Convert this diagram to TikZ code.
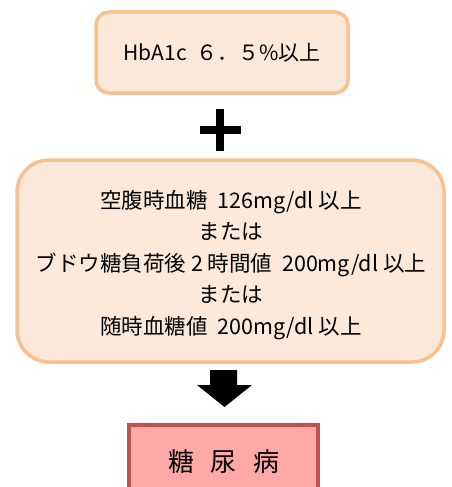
\documentclass[tikz,border=0pt]{standalone}
\usepackage{fontspec}
\setmainfont{Noto Sans CJK JP}
\newfontfamily\jpfont{Noto Sans CJK JP}
\definecolor{peachfill}{HTML}{FDE9D9}
\definecolor{peachline}{HTML}{FAC090}
\definecolor{pinkfill}{HTML}{FFA8A8}
\definecolor{redline}{HTML}{C0504D}
\tikzset{
  condbox/.style={draw=peachline, fill=peachfill, line width=3.5pt},
  resultbox/.style={draw=redline, fill=pinkfill, line width=3.5pt},
  txt/.style={font=\jpfont\fontsize{21.5}{31.5}\selectfont, align=center, inner sep=0pt},
}
\begin{document}
\begin{tikzpicture}[x=1pt,y=-1pt]
\clip (0,0) rectangle (452,487);
\useasboundingbox (0,0) rectangle (452,487);
\fill[white] (0,0) rectangle (452,487);
% top box
\draw[condbox, rounded corners=13pt] (96,12) rectangle (348,93);
\node[txt, font=\jpfont\fontsize{21}{25}\selectfont] (hba) at (222,53) {HbA1c\ \ ６．５\%以上};
% plus
\node[fill=black, minimum width=41pt, minimum height=8pt, inner sep=0pt] (plush) at (220.5,130) {};
\node[fill=black, minimum width=8pt, minimum height=42pt, inner sep=0pt] (plusv) at (220,130) {};
% middle box
\draw[condbox, rounded corners=32pt] (17,160) rectangle (444,362);
\node[txt] (cond) at (231,265) {空腹時血糖\ \ 126mg/dl 以上\\または\\ブドウ糖負荷後 2 時間値\ \ 200mg/dl 以上\\または\\随時血糖値\ \ 200mg/dl 以上};
% arrow
\fill[black] (210,370) -- (237,370) -- (237,385) -- (252,385) -- (224.5,407) -- (197,385) -- (210,385) -- cycle;
% bottom box
\draw[resultbox] (129,425) rectangle (318,500);
\node[font=\jpfont\fontsize{26}{30}\selectfont, inner sep=0pt] (dm) at (224,462) {糖\hspace{0.65em}尿\hspace{0.65em}病};
\end{tikzpicture}
\end{document}
